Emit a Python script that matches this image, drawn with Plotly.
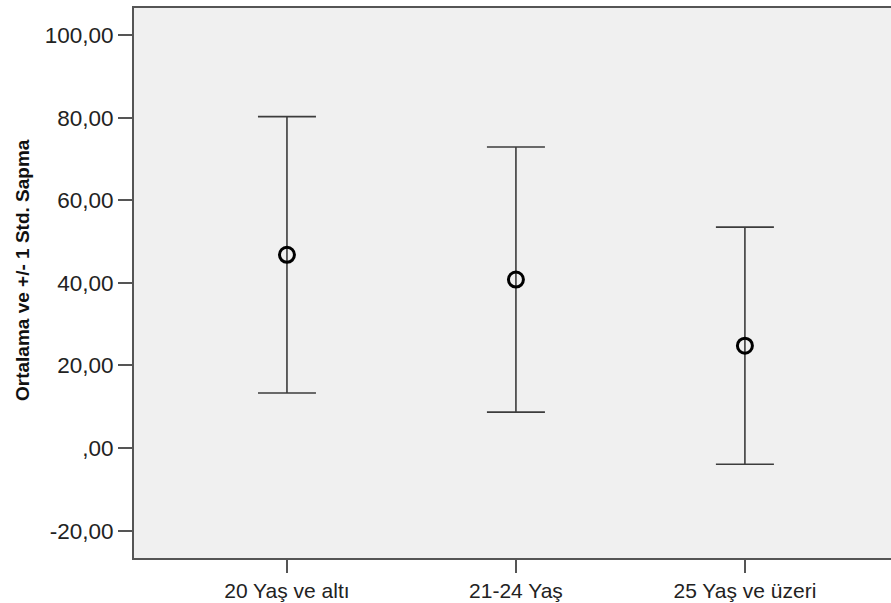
import plotly.graph_objects as go

categories = ["20 Yaş ve altı", "21-24 Yaş", "25 Yaş ve üzeri"]
means = [46.8, 40.8, 24.8]
std_devs = [33.45, 32.1, 28.7]
y_tick_values = [-20, 0, 20, 40, 60, 80, 100]
y_tick_labels = ["-20,00", ",00", "20,00", "40,00", "60,00", "80,00", "100,00"]
y_title = "Ortalama ve +/- 1 Std. Sapma"

FONT = "Liberation Sans, Arial, sans-serif"

fig = go.Figure()
fig.add_trace(go.Scatter(
    x=list(range(len(categories))),
    y=means,
    mode="markers",
    marker=dict(symbol="circle-open", size=15, color="black", line=dict(width=3, color="black")),
    error_y=dict(type="data", array=std_devs, symmetric=True, color="#3c3c3c", thickness=1.6, width=29),
    showlegend=False,
    hoverinfo="skip",
))

fig.add_annotation(
    text="<b>" + y_title + "</b>",
    xref="paper", yref="paper",
    x=(22 - 134) / 757, y=(558 - 270) / 550,
    xanchor="center", yanchor="middle",
    textangle=-90, showarrow=False,
    font=dict(size=19, family=FONT, color="#111111"),
)

fig.update_layout(
    width=891, height=603,
    margin=dict(l=134, r=0, t=8, b=45),
    paper_bgcolor="white",
    plot_bgcolor="#f0f0f0",
    font=dict(family=FONT, size=20, color="#222222"),
    xaxis=dict(
        range=[-0.668, 2.638],
        tickmode="array",
        tickvals=list(range(len(categories))),
        ticktext=categories,
        ticks="outside", ticklen=13, tickwidth=2, tickcolor="#555555",
        showline=True, linewidth=2, linecolor="#555555", mirror=True,
        showgrid=False, zeroline=False,
        tickfont=dict(size=21, family=FONT, color="#222222"),
    ),
    yaxis=dict(
        range=[-26.61, 106.54],
        tickmode="array",
        tickvals=y_tick_values,
        ticktext=y_tick_labels,
        ticks="outside", ticklen=14, tickwidth=2, tickcolor="#555555",
        showline=True, linewidth=2, linecolor="#555555", mirror=False,
        showgrid=False, zeroline=False,
        tickfont=dict(size=22.5, family=FONT, color="#222222"),
    ),
)

fig.write_html("out.html")
